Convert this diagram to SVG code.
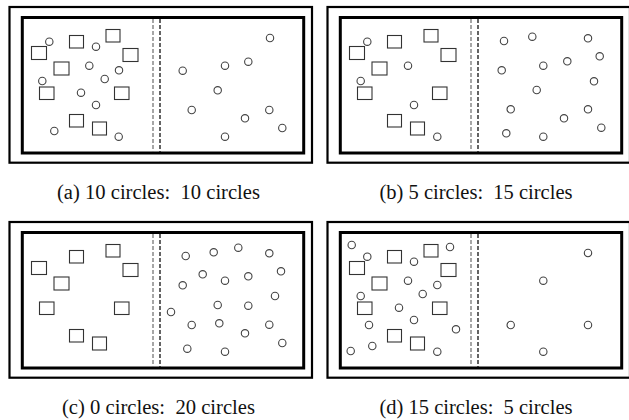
<svg xmlns="http://www.w3.org/2000/svg" xmlns:xlink="http://www.w3.org/1999/xlink" width="629" height="420" viewBox="0 0 629 420">
<style>
.outer{fill:none;stroke:#000;stroke-width:2.2}
.inner{fill:none;stroke:#000;stroke-width:3}
.dl{fill:none;stroke:#777;stroke-width:1.3;stroke-dasharray:4 2}
.dr{fill:none;stroke:#111;stroke-width:1.3;stroke-dasharray:4 2}
.sq{fill:none;stroke:#333;stroke-width:1.1}
.c{fill:none;stroke:#444;stroke-width:1.1}
.cap{font-family:"Liberation Serif","Times New Roman",serif;font-size:20px;fill:#111;text-anchor:middle}
</style>
<defs>
<g id="frame">
<rect class="outer" x="9.5" y="7" width="302.5" height="155.7"/>
<rect class="inner" x="22.3" y="17.5" width="281.4" height="135.5"/>
<line class="dl" x1="153" y1="19" x2="153" y2="152"/>
<line class="dr" x1="160" y1="19" x2="160" y2="152"/>
</g>
<g id="squares">
<rect class="sq" x="31.5" y="46.5" width="15" height="13"/>
<rect class="sq" x="69.5" y="35.5" width="14" height="12.5"/>
<rect class="sq" x="106" y="29.5" width="14" height="12.5"/>
<rect class="sq" x="123" y="48.5" width="15" height="13"/>
<rect class="sq" x="54" y="62" width="15" height="13"/>
<rect class="sq" x="39.5" y="87" width="14.5" height="12.5"/>
<rect class="sq" x="114.5" y="87" width="14.5" height="12.5"/>
<rect class="sq" x="69.5" y="114.5" width="14" height="12.5"/>
<rect class="sq" x="92.5" y="122" width="14" height="13"/>
</g>
</defs>

<g id="panel-a">
<use xlink:href="#frame"/>
<use xlink:href="#squares"/>
<g id="a-left">
<circle class="c" cx="49.3" cy="41.7" r="3.7"/>
<circle class="c" cx="96" cy="46.7" r="3.7"/>
<circle class="c" cx="89.3" cy="65.7" r="3.7"/>
<circle class="c" cx="119" cy="70.3" r="3.7"/>
<circle class="c" cx="104.7" cy="79" r="3.7"/>
<circle class="c" cx="42.3" cy="81" r="3.7"/>
<circle class="c" cx="81" cy="92.7" r="3.7"/>
<circle class="c" cx="96" cy="105" r="3.7"/>
<circle class="c" cx="54.3" cy="131" r="3.7"/>
<circle class="c" cx="118.7" cy="136.7" r="3.7"/>
</g>
<g id="a-right">
<circle class="c" cx="270" cy="38" r="3.7"/>
<circle class="c" cx="248.3" cy="61.7" r="3.7"/>
<circle class="c" cx="225" cy="65.7" r="3.7"/>
<circle class="c" cx="182.7" cy="70.7" r="3.7"/>
<circle class="c" cx="217.7" cy="90.3" r="3.7"/>
<circle class="c" cx="191.7" cy="110" r="3.7"/>
<circle class="c" cx="269.3" cy="110" r="3.7"/>
<circle class="c" cx="245" cy="118.3" r="3.7"/>
<circle class="c" cx="282.3" cy="128" r="3.7"/>
<circle class="c" cx="225" cy="136.7" r="3.7"/>
</g>
<text class="cap" x="158.5" y="198.5" xml:space="preserve" textLength="203" lengthAdjust="spacingAndGlyphs">(a) 10 circles:  10 circles</text>
</g>

<g id="panel-b" transform="translate(318,0)">
<use xlink:href="#frame"/>
<use xlink:href="#squares"/>
<g id="b-left">
<circle class="c" cx="49.3" cy="41.7" r="3.7"/>
<circle class="c" cx="90" cy="65.7" r="3.7"/>
<circle class="c" cx="42.7" cy="81" r="3.7"/>
<circle class="c" cx="96" cy="105" r="3.7"/>
<circle class="c" cx="119.3" cy="136.7" r="3.7"/>
</g>
<g id="b-right">
<circle class="c" cx="186" cy="41" r="3.7"/>
<circle class="c" cx="214.3" cy="36.7" r="3.7"/>
<circle class="c" cx="270" cy="38.3" r="3.7"/>
<circle class="c" cx="281.7" cy="56.3" r="3.7"/>
<circle class="c" cx="225.3" cy="65.7" r="3.7"/>
<circle class="c" cx="249.3" cy="61.3" r="3.7"/>
<circle class="c" cx="183.7" cy="70.3" r="3.7"/>
<circle class="c" cx="276" cy="81.3" r="3.7"/>
<circle class="c" cx="218.7" cy="90" r="3.7"/>
<circle class="c" cx="192.7" cy="109.3" r="3.7"/>
<circle class="c" cx="270" cy="109.3" r="3.7"/>
<circle class="c" cx="246" cy="118.3" r="3.7"/>
<circle class="c" cx="283.3" cy="127.7" r="3.7"/>
<circle class="c" cx="188.3" cy="133.3" r="3.7"/>
<circle class="c" cx="225.3" cy="136.7" r="3.7"/>
</g>
<text class="cap" x="158" y="198.5" xml:space="preserve" textLength="193" lengthAdjust="spacingAndGlyphs">(b) 5 circles:  15 circles</text>
</g>

<g id="panel-c" transform="translate(0,215)">
<use xlink:href="#frame"/>
<use xlink:href="#squares"/>
<g id="c-right">
<circle class="c" cx="185.7" cy="41" r="3.7"/>
<circle class="c" cx="213.7" cy="37.3" r="3.7"/>
<circle class="c" cx="238.3" cy="32.7" r="3.7"/>
<circle class="c" cx="269.3" cy="38.3" r="3.7"/>
<circle class="c" cx="202.7" cy="59.3" r="3.7"/>
<circle class="c" cx="225" cy="65.7" r="3.7"/>
<circle class="c" cx="248.3" cy="61.3" r="3.7"/>
<circle class="c" cx="281" cy="56.3" r="3.7"/>
<circle class="c" cx="182.7" cy="70.3" r="3.7"/>
<circle class="c" cx="275" cy="81" r="3.7"/>
<circle class="c" cx="171" cy="97" r="3.7"/>
<circle class="c" cx="217.7" cy="90" r="3.7"/>
<circle class="c" cx="248.3" cy="90.7" r="3.7"/>
<circle class="c" cx="191.7" cy="110" r="3.7"/>
<circle class="c" cx="219.3" cy="108.3" r="3.7"/>
<circle class="c" cx="269.3" cy="109.7" r="3.7"/>
<circle class="c" cx="245" cy="118.3" r="3.7"/>
<circle class="c" cx="282.3" cy="128" r="3.7"/>
<circle class="c" cx="187.3" cy="133.7" r="3.7"/>
<circle class="c" cx="225" cy="136.7" r="3.7"/>
</g>
<text class="cap" x="158.5" y="198.5" xml:space="preserve" textLength="193" lengthAdjust="spacingAndGlyphs">(c) 0 circles:  20 circles</text>
</g>

<g id="panel-d" transform="translate(318,215)">
<use xlink:href="#frame"/>
<use xlink:href="#squares"/>
<g id="d-left">
<circle class="c" cx="33.7" cy="30" r="3.7"/>
<circle class="c" cx="49.3" cy="41.7" r="3.7"/>
<circle class="c" cx="132" cy="32" r="3.7"/>
<circle class="c" cx="96" cy="46.7" r="3.7"/>
<circle class="c" cx="90" cy="65.7" r="3.7"/>
<circle class="c" cx="119.3" cy="70" r="3.7"/>
<circle class="c" cx="104.7" cy="79" r="3.7"/>
<circle class="c" cx="42.7" cy="81" r="3.7"/>
<circle class="c" cx="81" cy="92.7" r="3.7"/>
<circle class="c" cx="96" cy="105" r="3.7"/>
<circle class="c" cx="51" cy="110" r="3.7"/>
<circle class="c" cx="138" cy="114.3" r="3.7"/>
<circle class="c" cx="54.3" cy="131" r="3.7"/>
<circle class="c" cx="32.7" cy="136" r="3.7"/>
<circle class="c" cx="119.3" cy="136.7" r="3.7"/>
</g>
<g id="d-right">
<circle class="c" cx="270" cy="38" r="3.7"/>
<circle class="c" cx="225.3" cy="65.7" r="3.7"/>
<circle class="c" cx="192.7" cy="110" r="3.7"/>
<circle class="c" cx="270" cy="110" r="3.7"/>
<circle class="c" cx="225.3" cy="136.7" r="3.7"/>
</g>
<text class="cap" x="158" y="198.5" xml:space="preserve" textLength="193" lengthAdjust="spacingAndGlyphs">(d) 15 circles:  5 circles</text>
</g>
</svg>
